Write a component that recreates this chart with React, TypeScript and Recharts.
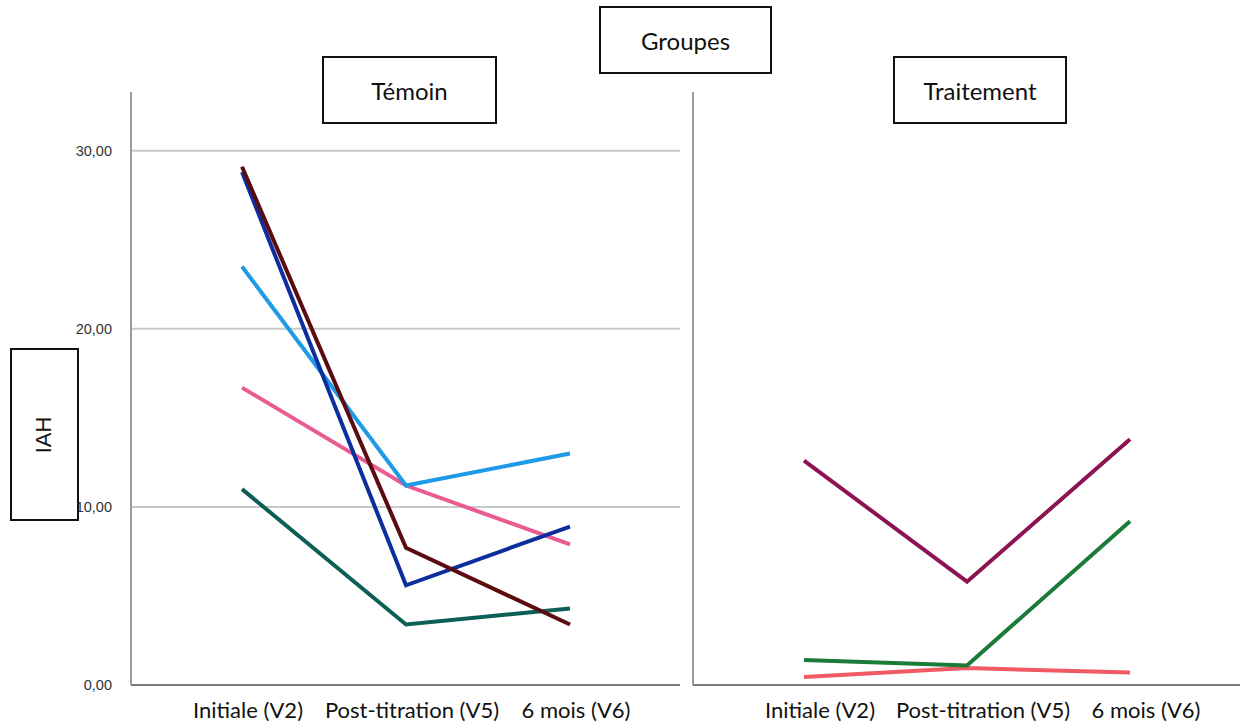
import { CartesianGrid, Line, LineChart, XAxis, YAxis } from "recharts";

const VISITS = ["Initiale (V2)", "Post-titration (V5)", "6 mois (V6)"];
const Y_TICKS = [0, 10, 20, 30];
const GRID_AT = [10, 20, 30];

// Témoin group
const temoinMaroon = [29.1, 7.7, 3.4];
const temoinBlue = [28.8, 5.6, 8.9];
const temoinSky = [23.5, 11.2, 13.0];
const temoinPink = [16.7, 11.2, 7.9];
const temoinTeal = [11.0, 3.4, 4.3];

// Traitement group
const traitPurple = [12.6, 5.8, 13.8];
const traitGreen = [1.4, 1.1, 9.2];
const traitRed = [0.45, 0.95, 0.7];

const temoinSeries = [
  { key: "s1", values: temoinTeal, color: "#0c5f56" },
  { key: "s2", values: temoinPink, color: "#ea5b92" },
  { key: "s3", values: temoinSky, color: "#1e9ae6" },
  { key: "s4", values: temoinBlue, color: "#0d2f9e" },
  { key: "s5", values: temoinMaroon, color: "#5a0c10" },
];

const traitSeries = [
  { key: "s1", values: traitRed, color: "#f25a63" },
  { key: "s2", values: traitGreen, color: "#1b7b38" },
  { key: "s3", values: traitPurple, color: "#8d1452" },
];

function rows(series: { key: string; values: number[] }[]) {
  return VISITS.map((v, i) => {
    const r: Record<string, string | number> = { visit: v };
    series.forEach((s) => (r[s.key] = s.values[i]));
    return r;
  });
}

const LABEL_FONT = "Lato, 'Open Sans', sans-serif";
const XTICK = { fontSize: 22, fill: "#111", fontFamily: LABEL_FONT };
const YTICK = { fontSize: 14.5, fill: "#333", fontFamily: "'Liberation Sans', Arial, sans-serif" };

function Box({ x, y, w, h, children, rotate = false }: any) {
  return (
    <div
      style={{
        position: "absolute",
        left: x,
        top: y,
        width: w,
        height: h,
        border: "2px solid #111",
        boxSizing: "border-box",
        background: "#fff",
        display: "flex",
        alignItems: "center",
        justifyContent: "center",
        fontFamily: rotate ? "'Liberation Sans', Arial, sans-serif" : LABEL_FONT,
        fontSize: rotate ? 22 : 24,
        color: "#111",
      }}
    >
      <span style={rotate ? { transform: "rotate(-90deg)", display: "inline-block" } : undefined}>
        {children}
      </span>
    </div>
  );
}

function Panel({
  series,
  showY,
  labelShift,
}: {
  series: { key: string; values: number[]; color: string }[];
  showY: boolean;
  labelShift: number;
}) {
  return (
    <LineChart
      width={showY ? 690 : 569}
      height={725}
      data={rows(series)}
      margin={{ top: 92, right: showY ? 10 : 12, bottom: 0, left: 0 }}
    >
      <CartesianGrid vertical={false} horizontalValues={GRID_AT} stroke="#c9c9c9" strokeWidth={2} />
      <XAxis
        dataKey="visit"
        padding={{ left: 111, right: 110 }}
        height={40}
        tick={{ ...XTICK, dx: labelShift }}
        tickLine={false}
        tickMargin={11}
        axisLine={{ stroke: "#7a7a7a", strokeWidth: 2 }}
        interval={0}
      />
      <YAxis
        domain={[0, 33.3]}
        ticks={Y_TICKS}
        width={showY ? 131 : 10}
        tick={showY ? YTICK : false}
        tickFormatter={(v: number) => v.toFixed(2).replace(".", ",")}
        tickLine={false}
        tickMargin={13}
        axisLine={{ stroke: "#9a9a9a", strokeWidth: 2 }}
        allowDataOverflow
      />
      {series.map((s) => (
        <Line
          key={s.key}
          dataKey={s.key}
          stroke={s.color}
          strokeWidth={4}
          dot={false}
          activeDot={false}
          type="linear"
          isAnimationActive={false}
        />
      ))}
    </LineChart>
  );
}

export default function App() {
  return (
    <div
      style={{
        position: "absolute",
        left: 0,
        top: 0,
        width: 1252,
        height: 725,
        background: "#fff",
        overflow: "hidden",
      }}
    >
      <div style={{ position: "absolute", left: 0, top: 0 }}>
        <Panel series={temoinSeries} showY labelShift={6} />
      </div>
      <div style={{ position: "absolute", left: 683, top: 0 }}>
        <Panel series={traitSeries} showY={false} labelShift={16} />
      </div>
      <Box x={599} y={6} w={173} h={68}>Groupes</Box>
      <Box x={322} y={56} w={175} h={68}>Témoin</Box>
      <Box x={893} y={56} w={174} h={68}>Traitement</Box>
      <Box x={10} y={348} w={69} h={173} rotate>IAH</Box>
    </div>
  );
}
